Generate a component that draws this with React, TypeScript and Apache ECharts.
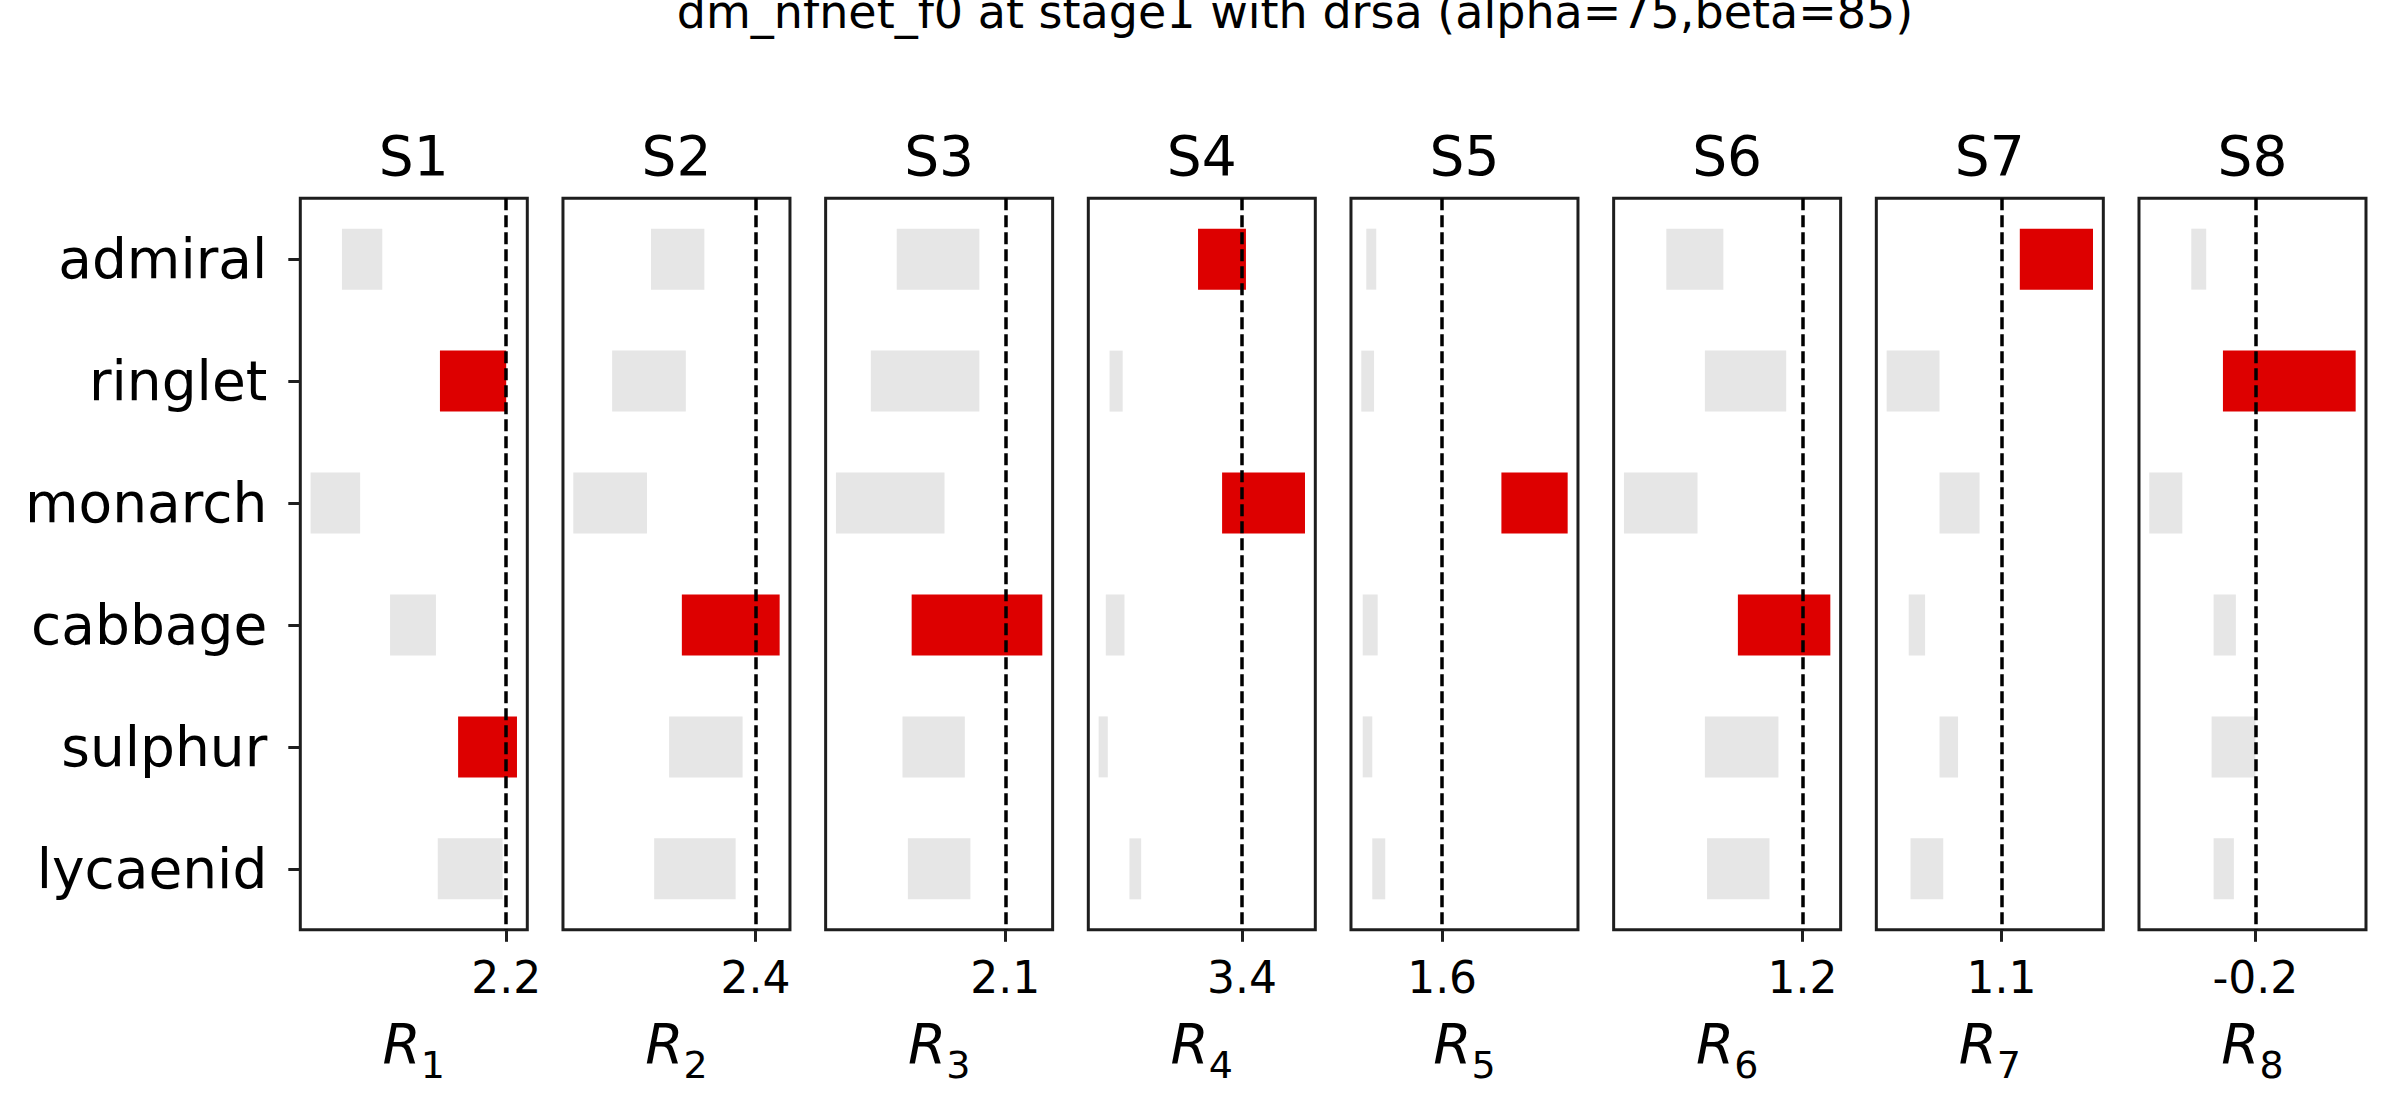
import React, { useEffect, useRef } from "react";
import * as echarts from "echarts";

const mainTitle = "dm_nfnet_f0 at stage1 with drsa (alpha=75,beta=85)";
const categories = ["admiral", "ringlet", "monarch", "cabbage", "sulphur", "lycaenid"];
const panelTitles = ["S1", "S2", "S3", "S4", "S5", "S6", "S7", "S8"];
const refValues = [2.2, 2.4, 2.1, 3.4, 1.6, 1.2, 1.1, -0.2];

const barStart = [
  [1.377, 1.868, 1.22, 1.618, 1.959, 1.857],
  [1.875, 1.68, 1.485, 2.03, 1.966, 1.891],
  [1.555, 1.425, 1.25, 1.63, 1.584, 1.611],
  [3.179, 2.734, 3.3, 2.715, 2.679, 2.834],
  [1.22, 1.195, 1.897, 1.202, 1.202, 1.25],
  [0.515, 0.709, 0.302, 0.875, 0.709, 0.72],
  [1.193, 0.518, 0.786, 0.63, 0.786, 0.639],
  [-0.522, -0.363, -0.733, -0.41, -0.42, -0.41],
];
const barEnd = [
  [1.579, 2.2, 1.468, 1.848, 2.254, 2.182],
  [2.143, 2.05, 1.855, 2.521, 2.335, 2.3],
  [1.97, 1.97, 1.795, 2.286, 1.897, 1.925],
  [3.42, 2.8, 3.717, 2.809, 2.725, 2.893],
  [1.27, 1.259, 2.229, 1.277, 1.25, 1.315],
  [0.802, 1.118, 0.672, 1.34, 1.079, 1.034],
  [1.564, 0.786, 0.989, 0.713, 0.88, 0.805],
  [-0.447, 0.304, -0.567, -0.298, -0.2, -0.308],
];
// indices of highlighted (red) bars per panel
const highlighted = [[1, 4], [3], [3], [0, 2], [2], [3], [0], [1]];

const RED = "#dd0000";
const GRAY = "#e6e6e6";
const INK = "#1e1e1e";
const FONT = "DejaVu Sans";

export default function App() {
  const ref = useRef<HTMLDivElement>(null);
  useEffect(() => {
    if (!ref.current) return;
    const chart = echarts.init(ref.current, undefined, { renderer: "svg" });
    const n = panelTitles.length;
    const gLeft0 = 300.3;
    const gStep = 262.67;
    const gWidth = 227;
    const gTop = 198.2;
    const gHeight = 731.6;

    const grids: any[] = [];
    const xAxes: any[] = [];
    const yAxes: any[] = [];
    const series: any[] = [];
    const titles: any[] = [
      {
        text: mainTitle,
        left: 1295,
        textAlign: "center",
        top: -11,
        padding: 0,
        textStyle: { fontSize: 46, fontWeight: "normal", color: "#000", fontFamily: FONT },
      },
    ];

    for (let i = 0; i < n; i++) {
      const left = gLeft0 + gStep * i;
      grids.push({
        left,
        top: gTop,
        width: gWidth,
        height: gHeight,
        show: true,
        borderColor: INK,
        borderWidth: 3,
        backgroundColor: "transparent",
        containLabel: false,
      });
      const lo = Math.min(...barStart[i]);
      const hi = Math.max(...barEnd[i]);
      const pad = (hi - lo) * 0.05;
      xAxes.push({
        type: "value",
        gridIndex: i,
        min: lo - pad,
        max: hi + pad,
        axisLine: { show: false },
        splitLine: { show: false },
        axisTick: {
          show: true,
          customValues: [refValues[i]],
          length: 12,
          inside: false,
          lineStyle: { color: INK, width: 3 },
        },
        axisLabel: {
          customValues: [refValues[i]],
          fontSize: 44,
          color: "#000",
          fontFamily: FONT,
          margin: 26,
          formatter: (v: number) => String(v),
        },
        name: `{r|R}{s|${i + 1}}`,
        nameLocation: "middle",
        nameGap: 74,
        nameTextStyle: {
          color: "#000",
          fontFamily: FONT,
          rich: {
            r: { fontSize: 55, fontStyle: "italic", lineHeight: 80, fontFamily: FONT, color: "#000" },
            s: { fontSize: 38, lineHeight: 52, verticalAlign: "bottom", fontFamily: FONT, color: "#000" },
          },
        },
      });
      yAxes.push({
        type: "category",
        gridIndex: i,
        data: categories,
        inverse: true,
        axisLine: { show: false },
        splitLine: { show: false },
        axisTick: {
          show: i === 0,
          alignWithLabel: true,
          length: 12,
          inside: false,
          lineStyle: { color: INK, width: 3 },
        },
        axisLabel: {
          show: i === 0,
          fontSize: 55,
          color: "#000",
          fontFamily: FONT,
          margin: 33,
          padding: [15, 0, 0, 0],
        },
      });
      const data = categories.map((_, c) => [
        c,
        barStart[i][c],
        barEnd[i][c],
        highlighted[i].includes(c) ? 1 : 0,
      ]);
      series.push({
        type: "custom",
        xAxisIndex: i,
        yAxisIndex: i,
        encode: { x: [1, 2], y: 0 },
        data,
        renderItem: (params: any, api: any) => {
          const cat = api.value(0);
          const p0 = api.coord([api.value(1), cat]);
          const p1 = api.coord([api.value(2), cat]);
          const band = api.size([0, 1])[1];
          const h = band * 0.5;
          return {
            type: "rect",
            shape: { x: p0[0], y: p0[1] - h / 2, width: p1[0] - p0[0], height: h },
            style: { fill: api.value(3) ? RED : GRAY },
          };
        },
        markLine: {
          silent: true,
          symbol: ["none", "none"],
          label: { show: false },
          lineStyle: { type: [12, 5], color: "#000", width: 3.5 },
          data: [{ xAxis: refValues[i] }],
          z: 10,
        },
      });
      titles.push({
        text: panelTitles[i],
        left: left + gWidth / 2,
        textAlign: "center",
        top: 128.5,
        padding: 0,
        textStyle: { fontSize: 55, fontWeight: "normal", color: "#000", fontFamily: FONT },
      });
    }

    chart.setOption({
      animation: false,
      backgroundColor: "#fff",
      title: titles,
      grid: grids,
      xAxis: xAxes,
      yAxis: yAxes,
      series,
    });
    return () => chart.dispose();
  }, []);
  return (
    <div
      ref={ref}
      style={{ position: "fixed", left: 0, top: 0, width: 2392, height: 1103 }}
    />
  );
}
